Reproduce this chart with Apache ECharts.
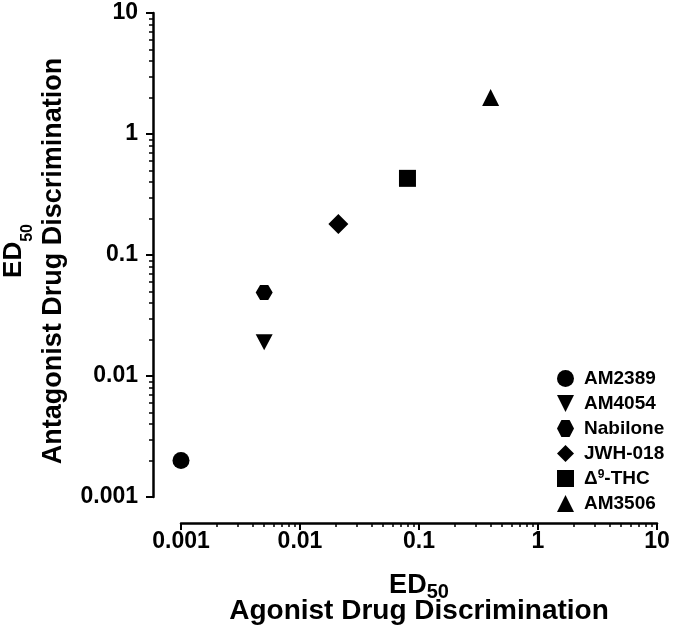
<!DOCTYPE html>
<html><head><meta charset="utf-8">
<script src="https://cdn.jsdelivr.net/npm/echarts@6/dist/echarts.min.js"></script>
<style>html,body{margin:0;padding:0;background:#fff}#c{width:681px;height:640px}</style>
</head><body><div id="c"></div>
<script>
// ---- data ----
const compounds = ['AM2389', 'AM4054', 'Nabilone', 'JWH-018', 'Δ9-THC', 'AM3506'];
const agonistED50 = [0.001, 0.005, 0.005, 0.021, 0.08, 0.4];
const antagonistED50 = [0.002, 0.019, 0.049, 0.18, 0.43, 2.0];
const tickValues = [0.001, 0.01, 0.1, 1, 10];
const tickLabels = ['0.001', '0.01', '0.1', '1', '10'];

// ---- styles ----
const FONT = 'Liberation Sans, Arial, sans-serif';
const markerStyle = {
  'AM2389': { symbol: 'circle', size: [17, 17] },
  'AM4054': { symbol: 'path://M0,0 L10,0 L5,10 Z', size: [17, 16] },
  'Nabilone': { symbol: 'path://M0,5 L2.6,0 L7.4,0 L10,5 L7.4,10 L2.6,10 Z', size: [17, 15] },
  'JWH-018': { symbol: 'diamond', size: [20, 20] },
  'Δ9-THC': { symbol: 'rect', size: [17, 17] },
  'AM3506': { symbol: 'triangle', size: [17, 17] }
};

function fmtTick(v) {
  for (let i = 0; i < tickValues.length; i++) {
    if (Math.abs(Math.log10(v) - Math.log10(tickValues[i])) < 1e-6) return tickLabels[i];
  }
  return String(v);
}

const axisCommon = {
  type: 'log',
  logBase: 10,
  min: tickValues[0],
  max: tickValues[tickValues.length - 1],
  splitLine: { show: false },
  minorSplitLine: { show: false },
  axisLine: { show: true, onZero: false, lineStyle: { color: '#000', width: 2.5 } },
  axisTick: { show: true, inside: false, length: 7, lineStyle: { color: '#000', width: 2 } },
  minorTick: { show: true, splitNumber: 9, length: 4, lineStyle: { color: '#000', width: 1.5 } },
  nameMoveOverlap: false
};

const series = compounds.map((name, i) => ({
  name: name,
  type: 'scatter',
  data: [[agonistED50[i], antagonistED50[i]]],
  symbol: markerStyle[name].symbol,
  symbolSize: markerStyle[name].size,
  itemStyle: { color: '#000', opacity: 1 },
  emphasis: { disabled: true }
}));

const chart = echarts.init(document.getElementById('c'), null, { renderer: 'canvas' });
chart.setOption({
  animation: false,
  backgroundColor: '#fff',
  grid: { left: 181, right: 24, top: 13, bottom: 143, containLabel: false, outerBoundsMode: 'none' },
  legend: {
    orient: 'vertical',
    left: 552,
    top: 364,
    itemWidth: 17,
    itemHeight: 17,
    itemGap: 6,
    selectedMode: false,
    symbolKeepAspect: true,
    data: compounds.map(name => ({ name: name, icon: markerStyle[name].symbol })),
    formatter: function (name) {
      if (name === 'Δ9-THC') return '{n|Δ}{sup|9}{n|-THC}';
      return '{n|' + name + '}';
    },
    textStyle: {
      color: '#000', fontFamily: FONT, fontWeight: 'bold', fontSize: 19, lineHeight: 19,
      padding: [0, 0, 0, 5],
      rich: {
        n: { color: '#000', fontFamily: FONT, fontWeight: 'bold', fontSize: 19, lineHeight: 19 },
        sup: { color: '#000', fontFamily: FONT, fontWeight: 'bold', fontSize: 12, lineHeight: 10, verticalAlign: 'top' }
      }
    }
  },
  xAxis: Object.assign({}, axisCommon, {
    position: 'bottom',
    offset: 26,
    axisLabel: {
      color: '#000', fontFamily: FONT, fontWeight: 'bold', fontSize: 23, margin: 7,
      formatter: fmtTick, showMinLabel: true, showMaxLabel: true, hideOverlap: false
    },
    name: '{ed|ED}{sub|50}\n{t|Agonist Drug Discrimination}',
    nameLocation: 'middle',
    nameGap: 49,
    nameTextStyle: {
      color: '#000', fontFamily: FONT, fontWeight: 'bold',
      rich: {
        ed: { fontFamily: FONT, fontWeight: 'bold', fontSize: 27, lineHeight: 26, verticalAlign: 'top', color: '#000' },
        sub: { fontFamily: FONT, fontWeight: 'bold', fontSize: 20, lineHeight: 20, padding: [10, 0, 0, 0], verticalAlign: 'top', color: '#000' },
        t: { fontFamily: FONT, fontWeight: 'bold', fontSize: 28, lineHeight: 26, color: '#000' }
      }
    }
  }),
  yAxis: Object.assign({}, axisCommon, {
    position: 'left',
    offset: 28,
    axisLabel: {
      color: '#000', fontFamily: FONT, fontWeight: 'bold', fontSize: 23, margin: 15,
      formatter: fmtTick, showMinLabel: true, showMaxLabel: true, hideOverlap: false
    },
    name: '{ed|ED}{sub|50}\n{t|Antagonist Drug Discrimination}',
    nameLocation: 'middle',
    nameGap: 72,
    nameRotate: 90,
    nameTextStyle: {
      color: '#000', fontFamily: FONT, fontWeight: 'bold',
      rich: {
        ed: { fontFamily: FONT, fontWeight: 'bold', fontSize: 26, lineHeight: 26, verticalAlign: 'top', padding: [0, 0, 0, 8], color: '#000' },
        sub: { fontFamily: FONT, fontWeight: 'bold', fontSize: 16, lineHeight: 16, padding: [19, 0, 0, 0], verticalAlign: 'top', color: '#000' },
        t: { fontFamily: FONT, fontWeight: 'bold', fontSize: 27, lineHeight: 54, padding: [0, 12, 0, 0], color: '#000' }
      }
    }
  }),
  series: series
});
</script>
</body></html>
